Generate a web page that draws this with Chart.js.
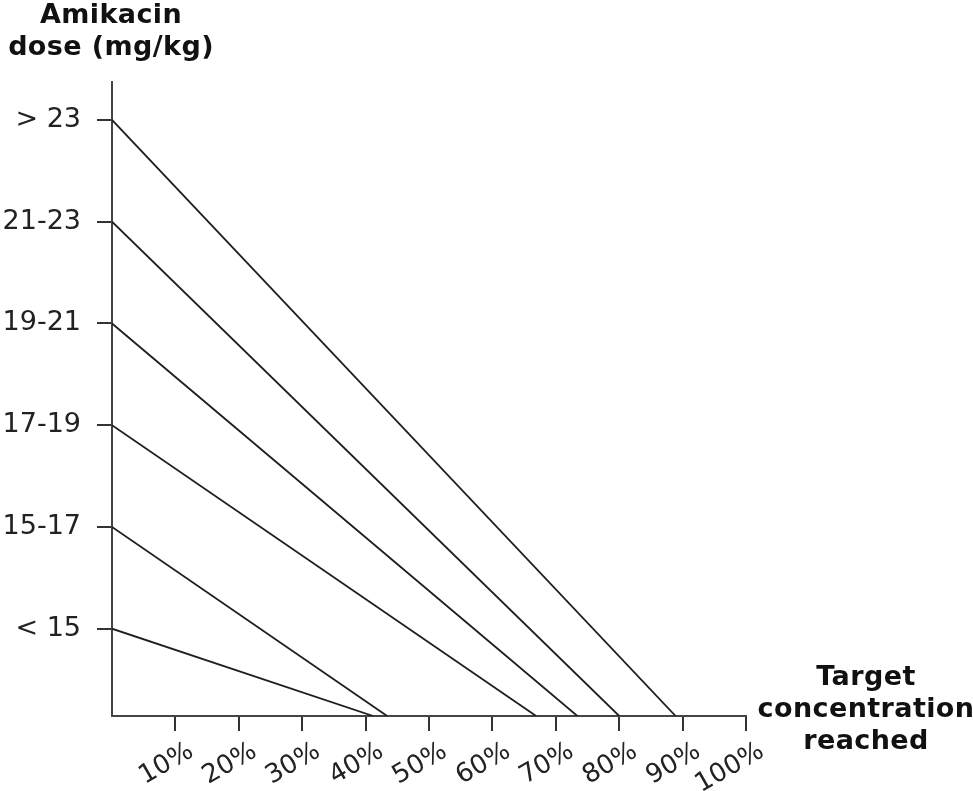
<!DOCTYPE html>
<html lang="en">
<head>
  <meta charset="UTF-8">
  <title>Amikacin dose vs target concentration</title>
  <script src="https://cdn.jsdelivr.net/npm/chart.js"></script>
  <style>
    body {
      margin: 0;
      background: #ffffff;
      font-family: "DejaVu Sans", Verdana, sans-serif;
    }
    .wrap {
      position: relative;
      width: 973px;
      height: 791px;
    }
    .axis-title {
      position: absolute;
      font-weight: bold;
      font-size: 27px;
      letter-spacing: 0.4px;
      line-height: 32px;
      color: #111;
      text-align: center;
    }
    #yTitle { left: 0; top: -2px; width: 222px; }
    #xTitle { left: 756px; top: 660px; width: 220px; }
  </style>
</head>
<body>
  <div class="wrap">
    <canvas id="chart" width="973" height="791"></canvas>
    <div class="axis-title" id="yTitle">Amikacin<br>dose (mg/kg)</div>
    <div class="axis-title" id="xTitle">Target<br>concentration<br>reached</div>
  </div>

  <script>
    // dose bands, bottom to top
    const doseBands = ["< 15", "15-17", "17-19", "19-21", "21-23", "> 23"];
    // % of target concentration where each band's line meets the x axis
    const targetReached = [41.2, 43.4, 66.9, 73.4, 80.0, 88.9];
    const xTickValues = [10, 20, 30, 40, 50, 60, 70, 80, 90, 100];

    const yMin = 0.142;
    const yMax = 6.373;
    const ink = "#1e1e1e";

    const datasets = doseBands.map((band, i) => ({
      label: band,
      data: [{ x: 0, y: i + 1 }, { x: targetReached[i], y: yMin }],
      borderColor: ink,
      borderWidth: 1.8,
      pointRadius: 0,
      showLine: true,
      fill: false
    }));

    new Chart(document.getElementById("chart").getContext("2d"), {
      type: "scatter",
      data: { datasets: datasets },
      options: {
        responsive: false,
        animation: false,
        devicePixelRatio: 1,
        layout: { padding: { top: 82, right: 227, left: 0, bottom: 0 } },
        plugins: {
          legend: { display: false },
          tooltip: { enabled: false }
        },
        scales: {
          x: {
            type: "linear",
            min: 0,
            max: 100,
            afterBuildTicks: scale => {
              scale.ticks = xTickValues.map(v => ({ value: v }));
            },
            afterFit: scale => { scale.height = 75; },
            border: { display: true, color: "#444", width: 2 },
            grid: { drawOnChartArea: false, drawTicks: true, tickLength: 15, color: "#333", lineWidth: 2 },
            ticks: {
              autoSkip: false,
              minRotation: 30,
              maxRotation: 30,
              padding: 5,
              labelOffset: 16,
              color: "#222",
              font: { family: "DejaVu Sans", size: 26 },
              callback: v => v + "%"
            }
          },
          y: {
            type: "linear",
            min: yMin,
            max: yMax,
            afterBuildTicks: scale => {
              scale.ticks = doseBands.map((b, i) => ({ value: i + 1 }));
            },
            afterFit: scale => { scale.width = 112; },
            border: { display: true, color: "#444", width: 2 },
            grid: { drawOnChartArea: false, drawTicks: true, tickLength: 15, color: "#333", lineWidth: 2 },
            ticks: {
              autoSkip: false,
              padding: 16,
              color: "#222",
              font: { family: "DejaVu Sans", size: 27 },
              callback: v => doseBands[Math.round(v) - 1] || ""
            }
          }
        }
      }
    });
  </script>
</body>
</html>
